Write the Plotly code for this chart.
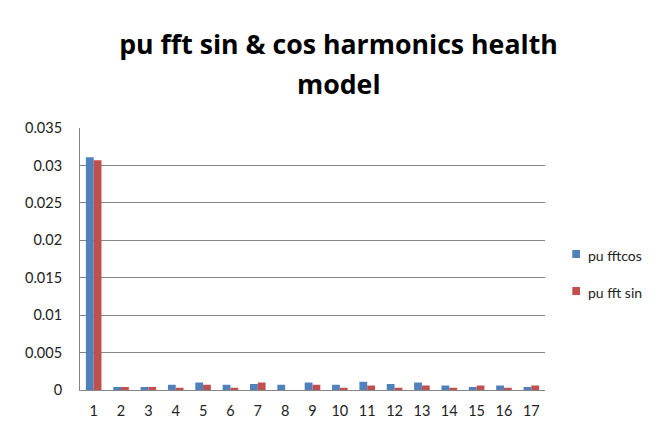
import plotly.graph_objects as go

categories = [str(i) for i in range(1, 18)]
pu_fft_cos = [0.0311, 0.0004, 0.0004, 0.0007, 0.0010, 0.0007, 0.0008, 0.0007, 0.0010,
              0.0007, 0.0011, 0.0008, 0.0010, 0.0006, 0.0004, 0.0006, 0.0004]
pu_fft_sin = [0.0307, 0.0004, 0.0004, 0.0003, 0.0007, 0.0003, 0.0010, 0.0000, 0.0007,
              0.0003, 0.0006, 0.0003, 0.0006, 0.0003, 0.0006, 0.0003, 0.0006]
y_tickvals = [0, 0.005, 0.01, 0.015, 0.02, 0.025, 0.03, 0.035]
y_ticktext = ["0", "0.005", "0.01", "0.015", "0.02", "0.025", "0.03", "0.035"]
series_names = ["pu fftcos", "pu fft sin"]
series_colors = ["#4F81BD", "#C0504D"]
title_lines = ["pu fft sin & cos harmonics health", "model"]

FONT = "Lato, 'Open Sans', sans-serif"
TITLE_FONT = "'Open Sans', Lato, sans-serif"
TITLE_SIZE = 26.7

fig = go.Figure()
for vals, name, color in zip([pu_fft_cos, pu_fft_sin], series_names, series_colors):
    fig.add_trace(go.Bar(x=categories, y=vals, name=name, showlegend=False,
                         marker=dict(color=color, line=dict(width=0))))

# legend drawn as swatches + labels to the right of the plot
legend_rows = [(0.5344, 0.5038, 0.5134), (0.3931, 0.3626, 0.3721)]
shapes, annotations = [], []
for (y0, y1, ytxt), name, color in zip(legend_rows, series_names, series_colors):
    shapes.append(dict(type="rect", xref="paper", yref="paper",
                       x0=1.0587, x1=1.0753, y0=y1, y1=y0,
                       fillcolor=color, line=dict(width=0)))
    annotations.append(dict(xref="paper", yref="paper", x=1.0903, y=ytxt,
                            xanchor="left", yanchor="middle", text=name,
                            showarrow=False, borderpad=0,
                            font=dict(size=14, family=FONT, color="#222222")))

# second line of the title (reference uses wide line spacing)
annotations.append(dict(xref="paper", yref="paper", x=0.558, y=1.0954,
                        xanchor="center", yanchor="bottom",
                        text="<b>" + title_lines[1] + "</b>", showarrow=False,
                        borderpad=0,
                        font=dict(size=TITLE_SIZE, family=TITLE_FONT, color="#000000")))

fig.update_layout(
    width=649, height=424,
    paper_bgcolor="white", plot_bgcolor="white",
    margin=dict(l=72, r=112, t=120, b=42, autoexpand=False),
    showlegend=False,
    barmode="group", bargap=0.43, bargroupgap=0,
    font=dict(family=FONT, color="#222222", size=13),
    title=dict(text="<b>" + title_lines[0] + "</b>",
               x=0.5092, xanchor="center", y=0.935, yanchor="top",
               font=dict(family=TITLE_FONT, size=TITLE_SIZE, color="#000000")),
    shapes=shapes,
    annotations=annotations,
    xaxis=dict(showline=True, linecolor="#868686", linewidth=1, ticks="",
               tickfont=dict(size=14.5, color="#222222"), showgrid=False,
               ticklabelstandoff=8),
    yaxis=dict(range=[0, 0.035], tickvals=y_tickvals, ticktext=y_ticktext,
               showgrid=True, gridcolor="#868686", gridwidth=1,
               showline=True, linecolor="#868686", linewidth=1, ticks="",
               zeroline=False, tickfont=dict(size=14.5, color="#222222"),
               ticklabelstandoff=14),
)

fig.write_html("out.html")
